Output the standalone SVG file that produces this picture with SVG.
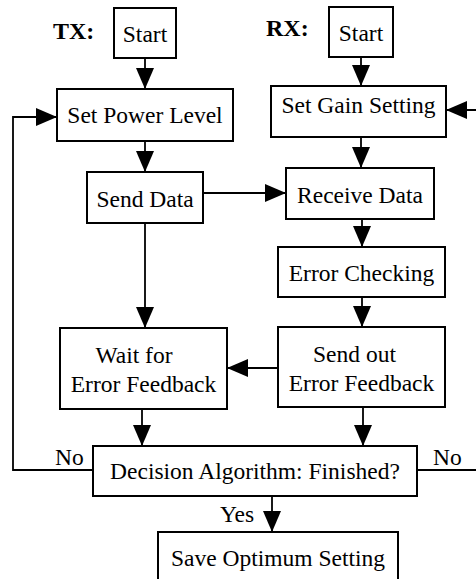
<svg xmlns="http://www.w3.org/2000/svg" width="476" height="579" viewBox="0 0 476 579">
<defs>
<marker id="ah" markerWidth="21" markerHeight="18" refX="21" refY="9" viewBox="0 0 21 18" markerUnits="userSpaceOnUse" orient="auto">
<path d="M0,0 L21,9 L0,18 Z" fill="#000"/>
</marker>
<style>
.box{fill:#fff;stroke:#000;stroke-width:2}
.t{font-family:"Liberation Serif","Times New Roman",serif;font-size:23.5px;fill:#000}
.m{text-anchor:middle}
.b{font-weight:bold;font-size:24px}
.c{fill:none;stroke:#000;stroke-width:1.8}
</style>
</defs>
<rect width="476" height="579" fill="#fff"/>
<g id="connectors">
<line class="c" x1="145" y1="58" x2="145" y2="89" marker-end="url(#ah)"/>
<line class="c" x1="145" y1="141" x2="145" y2="172" marker-end="url(#ah)"/>
<line class="c" x1="145" y1="223" x2="145" y2="328" marker-end="url(#ah)"/>
<line class="c" x1="142" y1="409" x2="142" y2="446" marker-end="url(#ah)"/>
<line class="c" x1="361" y1="57" x2="361" y2="86" marker-end="url(#ah)"/>
<line class="c" x1="361" y1="137" x2="361" y2="168" marker-end="url(#ah)"/>
<line class="c" x1="362" y1="219" x2="362" y2="247" marker-end="url(#ah)"/>
<line class="c" x1="362" y1="297" x2="362" y2="327" marker-end="url(#ah)"/>
<line class="c" x1="363" y1="407" x2="363" y2="446" marker-end="url(#ah)"/>
<line class="c" x1="272" y1="496" x2="272" y2="532" marker-end="url(#ah)"/>
<line class="c" x1="203" y1="193" x2="286" y2="193" marker-end="url(#ah)"/>
<line class="c" x1="278" y1="368" x2="227" y2="368" marker-end="url(#ah)"/>
<polyline class="c" points="93,470 13,470 13,117 57,117" marker-end="url(#ah)"/>
<polyline class="c" points="417,470 480,470 480,110 446,110" marker-end="url(#ah)"/>
</g>
<text class="t b" x="53" y="39">TX:</text>
<text class="t b" x="266" y="36">RX:</text>
<g id="tx-start"><rect class="box" x="114" y="8" width="62" height="50"/><text class="t m" x="145" y="42">Start</text></g>
<g id="rx-start"><rect class="box" x="329" y="7" width="64" height="50"/><text class="t m" x="361" y="41">Start</text></g>
<g id="set-power"><rect class="box" x="57" y="89" width="176" height="52"/><text class="t m" x="145" y="123">Set Power Level</text></g>
<g id="set-gain"><rect class="box" x="271" y="86" width="175" height="51"/><text class="t m" x="358.5" y="113">Set Gain Setting</text></g>
<g id="send-data"><rect class="box" x="87" y="172" width="116" height="51"/><text class="t m" x="145" y="207">Send Data</text></g>
<g id="receive-data"><rect class="box" x="286" y="168" width="148" height="51"/><text class="t m" x="360" y="203">Receive Data</text></g>
<g id="error-checking"><rect class="box" x="278" y="247" width="167" height="50"/><text class="t m" x="361.5" y="281">Error Checking</text></g>
<g id="send-out"><rect class="box" x="278" y="327" width="167" height="80"/><text class="t m" x="354.5" y="362">Send out</text><text class="t m" x="361.5" y="391">Error Feedback</text></g>
<g id="wait"><rect class="box" x="60" y="328" width="167" height="81"/><text class="t m" x="134" y="363">Wait for</text><text class="t m" x="143.5" y="392">Error Feedback</text></g>
<g id="decision"><rect class="box" x="93" y="446" width="324" height="50"/><text class="t m" x="255" y="479">Decision Algorithm: Finished?</text></g>
<g id="save"><rect class="box" x="158" y="532" width="240" height="50"/><text class="t m" x="278" y="566">Save Optimum Setting</text></g>
<text class="t" x="55" y="465">No</text>
<text class="t" x="433" y="465">No</text>
<text class="t" x="220" y="522">Yes</text>
</svg>
